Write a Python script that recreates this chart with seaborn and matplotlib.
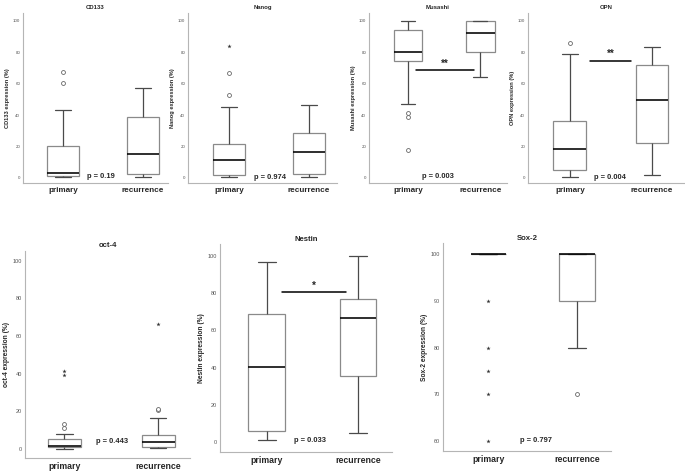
import numpy as np
import pandas as pd
import matplotlib
matplotlib.use("Agg")
import matplotlib.pyplot as plt
import seaborn as sns

groups = ["primary", "recurrence"]

# five-number summaries: [lower whisker, Q1, median, Q3, upper whisker]
cd133_primary = [0.5, 1.5, 3.4, 20.4, 43.3]
cd133_recurrence = [0.5, 2.5, 15.3, 39.0, 57.0]
nanog_primary = [0.8, 2.0, 11.4, 21.5, 45.4]
nanog_recurrence = [0.8, 2.5, 16.5, 28.5, 46.4]
musashi_primary = [47.3, 74.2, 80.0, 93.7, 100.0]
musashi_recurrence = [64.3, 80.2, 92.0, 100.0, 100.0]
opn_primary = [0.8, 4.9, 18.5, 36.0, 79.0]
opn_recurrence = [1.7, 22.3, 49.4, 72.0, 83.4]
oct4_primary = [0.0, 1.2, 1.6, 5.1, 7.8]
oct4_recurrence = [0.4, 1.2, 3.5, 7.6, 16.6]
nestin_primary = [0.9, 5.9, 40.5, 68.6, 96.6]
nestin_recurrence = [5.0, 35.6, 66.8, 76.7, 100.0]
sox2_primary = [100.0, 100.0, 100.0, 100.0, 100.0]
sox2_recurrence = [80.0, 90.0, 100.0, 100.0, 100.0]

# outliers (circles) and extremes (stars): (primary, recurrence)
cd133_circles = ([60.3, 67.3], [])
cd133_stars = ([], [])
nanog_circles = ([52.6, 66.8], [])
nanog_stars = ([84.0], [])
musashi_circles = ([41.0, 38.5, 18.0], [])
musashi_stars = ([], [])
opn_circles = ([86.0], [])
opn_stars = ([], [])
oct4_circles = ([11.1, 13.3], [20.5, 21.3])
oct4_stars = ([39.3, 41.2], [66.2])
nestin_circles = ([], [])
nestin_stars = ([], [])
sox2_circles = ([], [70.0])
sox2_stars = ([90.0, 80.0, 75.0, 70.0, 60.0], [])

p_values = ["p = 0.19", "p = 0.974", "p = 0.003", "p = 0.004",
            "p = 0.443", "p = 0.033", "p = 0.797"]

sns.set_style("white")
plt.rcParams['font.family'] = ['Liberation Sans', 'DejaVu Sans']

fig = plt.figure(figsize=(6.85, 4.72), dpi=100)
W, H = 685, 472


def make_ax(left, top, right, bottom):
    return fig.add_axes([left / W, 1 - bottom / H, (right - left) / W, (bottom - top) / H])


def draw_panel(ax, title, prim, rec, circles, stars, pval, pxy, xlim, ylim, yticks,
               width=0.4, top_row=True, sig=None):
    df = pd.DataFrame({"group": ["primary"] * len(prim) + ["recurrence"] * len(rec),
                       "value": prim + rec})
    sns.boxplot(data=df, x="group", y="value", order=groups, ax=ax, width=width,
                whis=(0, 100), showfliers=False, color="white", linecolor="#4a4a4a",
                linewidth=0.9,
                boxprops=dict(edgecolor="#8a8a8a"),
                medianprops=dict(color="black", linewidth=1.15))
    cdf = pd.DataFrame({"group": ["primary"] * len(circles[0]) + ["recurrence"] * len(circles[1]),
                        "value": circles[0] + circles[1]})
    if len(cdf):
        sns.stripplot(data=cdf, x="group", y="value", order=groups, ax=ax, jitter=False,
                      marker="o", size=2.8, color="white", edgecolor="#666666", linewidth=0.6)
    sdf = pd.DataFrame({"group": ["primary"] * len(stars[0]) + ["recurrence"] * len(stars[1]),
                        "value": stars[0] + stars[1]})
    if len(sdf):
        sns.stripplot(data=sdf, x="group", y="value", order=groups, ax=ax, jitter=False,
                      marker="*", size=3.2, color="#333333", linewidth=0)
    if sig is not None:
        x0, x1, y, label, ly = sig
        ax.plot([x0, x1], [y, y], color="black", linewidth=1.1)
        ax.text((x0 + x1) / 2, ly, label, ha="center", va="center", fontsize=7,
                fontweight="bold")
    ax.text(pxy[0], pxy[1], pval, ha="center", va="center",
            fontsize=5.4, fontweight="bold")
    ax.set_xlim(*xlim)
    ax.set_ylim(*ylim)
    ax.set_yticks(yticks)
    ax.set_xlabel("")
    ax.set_ylabel(f"{title} expression (%)", fontsize=4.1 if top_row else 4.8,
                  fontweight="bold", labelpad=2)
    ax.set_title(title, fontsize=4.3 if top_row else 5.6, fontweight="bold", pad=2.5)
    ax.tick_params(axis="both", length=0)
    ax.tick_params(axis="y", pad=2, labelsize=3.2 if top_row else 4, labelcolor="#555555")
    ax.tick_params(axis="x", pad=3.2)
    for lab in ax.get_xticklabels():
        lab.set_fontsize(5.9 if top_row else 6.3)
        lab.set_fontweight("bold")
    for s in ["top", "right"]:
        ax.spines[s].set_visible(False)
    for s in ["left", "bottom"]:
        ax.spines[s].set_color("#b5b5b5")
        ax.spines[s].set_linewidth(0.8)


ticks100 = [0, 20, 40, 60, 80, 100]

ax = make_ax(23, 12.7, 168, 182.7)
draw_panel(ax, "CD133", cd133_primary, cd133_recurrence, cd133_circles, cd133_stars,
           p_values[0], (0.47, 0.8), (-0.5, 1.31), (-3, 105), ticks100)

ax = make_ax(188, 12.7, 337, 182.7)
draw_panel(ax, "Nanog", nanog_primary, nanog_recurrence, nanog_circles, nanog_stars,
           p_values[1], (0.51, 0.6), (-0.51, 1.35), (-3, 105), ticks100)

ax = make_ax(369, 12.7, 507, 182.7)
draw_panel(ax, "Musashi", musashi_primary, musashi_recurrence, musashi_circles, musashi_stars,
           p_values[2], (0.42, 0.8), (-0.54, 1.37), (-3, 105), ticks100,
           sig=(0.11, 0.92, 68.5, "**", 72.5))

ax = make_ax(528, 12.7, 684, 182.7)
draw_panel(ax, "OPN", opn_primary, opn_recurrence, opn_circles, opn_stars,
           p_values[3], (0.49, 0.6), (-0.51, 1.39), (-3, 105), ticks100,
           sig=(0.25, 0.75, 74, "**", 78.8))

ax = make_ax(25, 250.7, 190, 458)
draw_panel(ax, "oct-4", oct4_primary, oct4_recurrence, oct4_circles, oct4_stars,
           p_values[4], (0.51, 3.9), (-0.42, 1.34), (-4.8, 105.3), ticks100,
           width=0.35, top_row=False)

ax = make_ax(220, 244, 392, 452)
draw_panel(ax, "Nestin", nestin_primary, nestin_recurrence, nestin_circles, nestin_stars,
           p_values[5], (0.475, 0.6), (-0.51, 1.37), (-5.4, 106.5), ticks100,
           top_row=False, sig=(0.17, 0.87, 80.6, "*", 84.2))

ax = make_ax(443, 243, 611, 451)
draw_panel(ax, "Sox-2", sox2_primary, sox2_recurrence, sox2_circles, sox2_stars,
           p_values[6], (0.54, 60.2), (-0.51, 1.38), (57.9, 102.4), [60, 70, 80, 90, 100],
           top_row=False)

fig.savefig("out.png", dpi=100)
